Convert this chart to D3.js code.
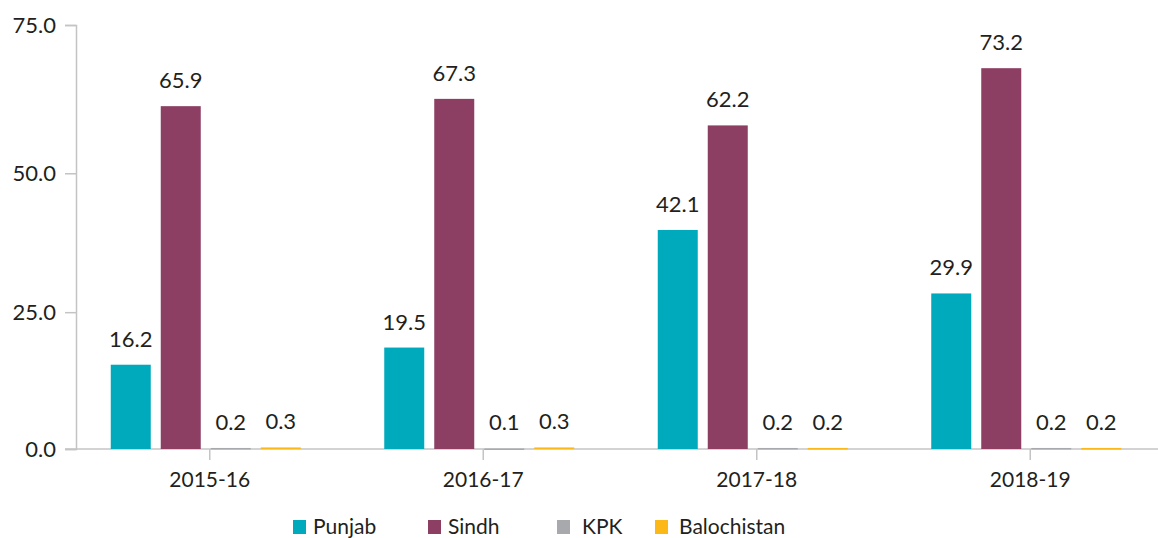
<!DOCTYPE html>
<html>
<head>
<meta charset="utf-8">
<script src="https://cdn.jsdelivr.net/npm/d3@7"></script>
<style>
  body { margin: 0; background: #fff; }
  text { font-family: "Lato", sans-serif; fill: #231f20; }
</style>
</head>
<body>
<div class="chart"></div>
<script>
const years = ["2015-16", "2016-17", "2017-18", "2018-19"];
const provinces = ["Punjab", "Sindh", "KPK", "Balochistan"];
const punjab = [16.2, 19.5, 42.1, 29.9];
const sindh = [65.9, 67.3, 62.2, 73.2];
const kpk = [0.2, 0.1, 0.2, 0.2];
const balochistan = [0.3, 0.3, 0.2, 0.2];
const colors = ["#00aabd", "#8c3f63", "#a7a9ac", "#fbb817"];
// axis labels as printed in the source (their spacing there is not even)
const yTickLabels = ["0.0", "25.0", "50.0", "75.0"];
const yTickValues = [0, 26.3, 53.0, 81.5];

const width = 1158, height = 538;
const seriesValues = [punjab, sindh, kpk, balochistan];
const data = years.map((yr, i) => ({
    year: yr,
    values: provinces.map((p, j) => ({key: p, value: seriesValues[j][i], color: colors[j]}))
}));

const svg = d3.select(".chart").append("svg")
    .attr("width", width)
    .attr("height", height);

const y = d3.scaleLinear().domain([0, 81.5]).range([449, 25]);
const x0 = d3.scaleBand().domain(years).range([73, 1167]);
const x1 = d3.scaleBand().domain(provinces).range([0, 190]).paddingInner(0.2);

// y axis
const yAxis = svg.append("g")
    .attr("transform", "translate(76,0)")
    .call(d3.axisLeft(y).tickValues(yTickValues).tickSize(11).tickPadding(9)
        .tickFormat((d, i) => yTickLabels[i]));
yAxis.select(".domain").attr("stroke", "#c4c4c4").attr("stroke-width", 1.5);
yAxis.selectAll(".tick line").attr("stroke", "#c4c4c4").attr("stroke-width", 1.5);
yAxis.selectAll(".tick text").style("font-size", "22px").attr("fill", "#231f20");

// x axis
const xAxis = svg.append("g")
    .attr("transform", "translate(0,449)")
    .call(d3.axisBottom(x0).tickSize(11).tickPadding(12).tickSizeOuter(0));
xAxis.select(".domain").attr("stroke", "#c4c4c4").attr("stroke-width", 1.5)
    .attr("d", "M65,0H" + width);
xAxis.selectAll(".tick line").attr("stroke", "#c4c4c4").attr("stroke-width", 1.5);
xAxis.selectAll(".tick text").style("font-size", "21px").attr("fill", "#231f20");

// bars
const groups = svg.selectAll(".group")
    .data(data)
    .join("g")
    .attr("class", "group")
    .attr("transform", d => `translate(${x0(d.year) + x0.bandwidth() / 2 - 99},0)`);

groups.selectAll("rect")
    .data(d => d.values)
    .join("rect")
    .attr("x", d => x1(d.key))
    .attr("width", x1.bandwidth())
    .attr("y", d => y(d.value))
    .attr("height", d => Math.max(1.5, y(0) - y(d.value)))
    .attr("fill", d => d.color);

groups.selectAll(".val")
    .data(d => d.values)
    .join("text")
    .attr("class", "val")
    .attr("x", d => x1(d.key) + x1.bandwidth() / 2)
    .attr("y", d => y(d.value) - 18)
    .attr("text-anchor", "middle")
    .style("font-size", "22px")
    .text(d => d.value.toFixed(1));

// legend
const legendX = [293, 428, 557, 655];
const legendGap = [20, 20, 25, 24];
const legend = svg.selectAll(".legend")
    .data(provinces)
    .join("g")
    .attr("class", "legend")
    .attr("transform", (d, i) => `translate(${legendX[i]},520)`);
legend.append("rect")
    .attr("width", 13).attr("height", 14)
    .attr("fill", (d, i) => colors[i]);
legend.append("text")
    .attr("x", (d, i) => legendGap[i])
    .attr("y", 14)
    .style("font-size", "21px")
    .text(d => d);
</script>
</body>
</html>
